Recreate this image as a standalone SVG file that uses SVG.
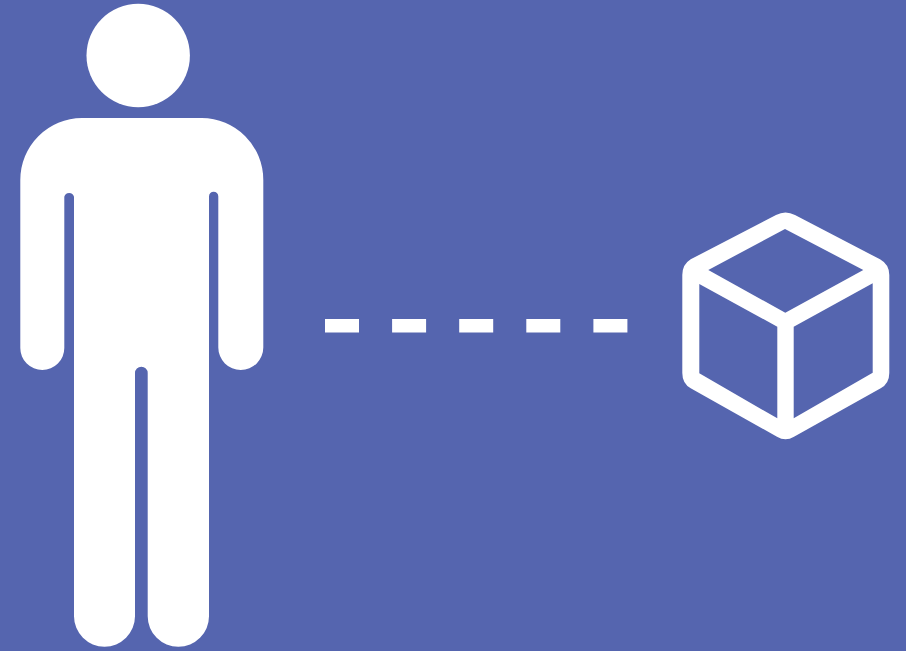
<svg xmlns="http://www.w3.org/2000/svg" width="906" height="651" viewBox="0 0 906 651">
<style>
.bg{fill:#5565af}
.w{fill:#fff}
.dash{fill:none;stroke:#fff;stroke-width:13.5;stroke-dasharray:34 33.1}
</style>
<rect class="bg" width="906" height="651"/>
<g id="person">
<circle class="w" cx="138.2" cy="55.5" r="51.7"/>
<path class="w" d="M82 118H201.7A61.6 62 0 0 1 263.3 180V347.5A22.5 22.5 0 0 1 218.3 347.5V196.4A4.65 4.65 0 0 0 209 196.4V616.2A30.65 30.65 0 0 1 147.7 616.2V373A6.35 6.35 0 0 0 135 373V616.2A30.5 30.5 0 0 1 74 616.2V196.7A5 5 0 0 0 64.3 196.7V348A22 22 0 0 1 20.3 348V180A61.7 62 0 0 1 82 118Z"/>
</g>
<g id="connectors">
<path class="dash" d="M325 325.8H627.5"/>
</g>
<g id="cube">
<path class="w" fill-rule="evenodd" d="M776 215Q785.5 210 795 215L880 259.3Q889.3 264.5 889.3 275V373Q889.3 383.5 880.7 388.3L794 436.7Q785.5 442 777 436.7L690.7 388.3Q682.3 383.5 682.3 373V275Q682.3 264.5 690.7 259.3ZM785 229L708.3 270L785.3 312.7L863.3 270ZM699.3 284V373.3L777.3 418.3V326.7ZM872.7 283.3L793.7 326.7V418.3L872.7 372.7Z"/>
</g>
</svg>
